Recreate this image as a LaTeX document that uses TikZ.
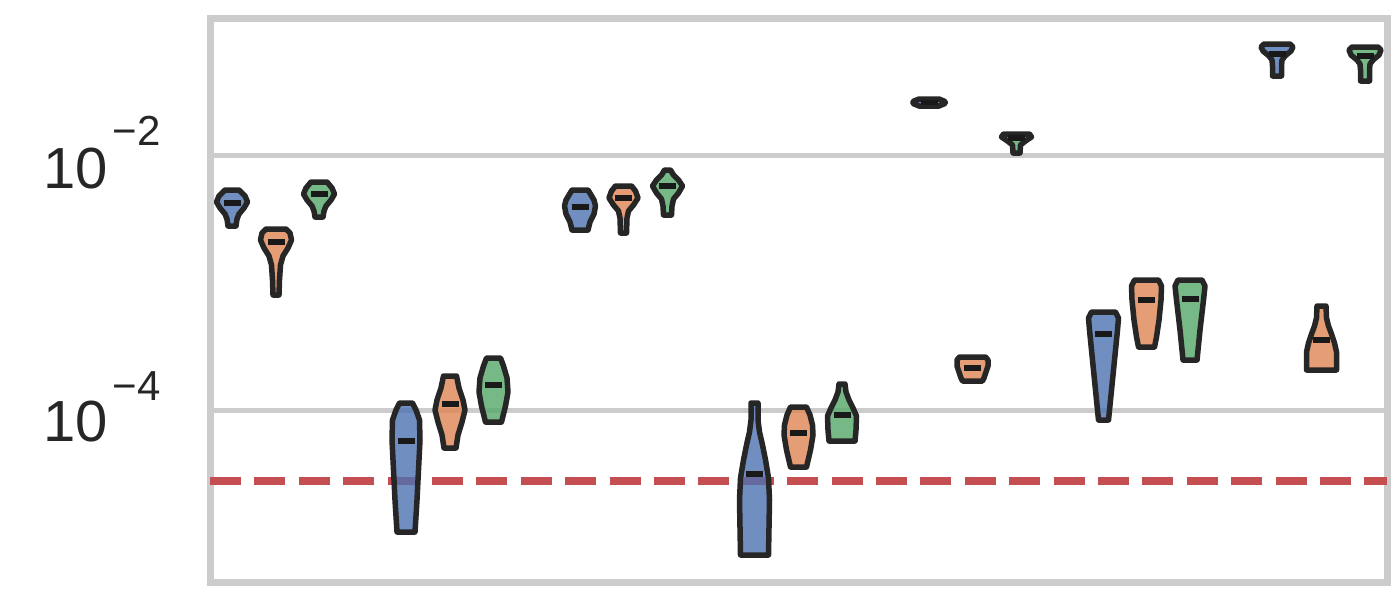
\documentclass[tikz,border=0pt]{standalone}
\usepackage{fontspec}
\setmainfont{Liberation Sans}
\definecolor{cblue}{HTML}{4C72B0}
\definecolor{corange}{HTML}{DD8452}
\definecolor{cgreen}{HTML}{55A868}
\definecolor{cred}{HTML}{C44E52}
\definecolor{edgec}{HTML}{262626}
\definecolor{gridc}{HTML}{CCCCCC}
\definecolor{txtc}{HTML}{262626}
\tikzset{
  viostyle/.style={draw=edgec, line width=5.5pt, line join=round, fill opacity=0.8},
  medbar/.style={draw=black!90, line width=5.5pt},
  spine/.style={draw=gridc, line width=7pt},
  gridline/.style={draw=gridc, line width=5pt},
  refline/.style={draw=cred, line width=8.4pt, dash pattern=on 31pt off 13.4pt},
  ticklab/.style={text=txtc, inner sep=0pt, anchor=base west, font=\fontsize{58}{60}\selectfont},
  suplab/.style={text=txtc, inner sep=0pt, anchor=base west, font=\fontsize{42}{44}\selectfont}
}
% #1 colour, #2 centre x, #3 median y, #4 list of y/halfwidth from top to bottom
\newcommand\myvio[4]{%
  \gdef\vlp{}\gdef\vrp{}%
  \foreach[count=\ii] \yy/\ww in {#4}{%
    \ifnum\ii=1 \xdef\vtop{\yy}\fi
    \xdef\vlp{\vlp -- (#2-\ww,\yy)}%
    \xdef\vrp{-- (#2+\ww,\yy) \vrp}%
  }%
  \edef\vcmd{\noexpand\path[viostyle, fill=#1] (#2,\vtop) \vlp\space\vrp\space -- cycle;}%
  \vcmd
  \draw[medbar] (#2-8.5,#3) -- (#2+8.5,#3);
}
\begin{document}
\begin{tikzpicture}[x=1pt,y=-1pt]
\useasboundingbox (0,0) rectangle (1400,600);
% grid
\coordinate (gl2) at (210,155.8);
\coordinate (gr2) at (1387,155.8);
\coordinate (gl4) at (210,410.5);
\coordinate (gr4) at (1387,410.5);
\draw[gridline] (gl2) -- (gr2);
\draw[gridline] (gl4) -- (gr4);
% frame
\coordinate (fa) at (210,18);
\coordinate (fb) at (1387,582.5);
\draw[spine] (fa) rectangle (fb);
% reference line
\coordinate (ra) at (210,481);
\coordinate (rb) at (1387,481);
\draw[refline] (ra) -- (rb);
% tick labels
\node[ticklab] (t2) at (43,188.3) {10};
\node[suplab] (t2s) at (112.5,145) {−2};
\node[ticklab] (t4) at (43,441.7) {10};
\node[suplab] (t4s) at (112.5,400) {−4};
% group 1
\myvio{cblue}{232}{203}{190/7, 196/13, 202/15.5, 208/12, 214/7, 219/5, 226/4}
\myvio{corange}{276}{242}{229/10, 233/14, 240/15.5, 248/12, 256/7, 265/4.5, 280/3.5, 295/3}
\myvio{cgreen}{319}{194}{182/8, 188/13, 194/15.5, 200/12, 206/7, 211/5, 217/4}
% group 2
\myvio{cblue}{406}{441}{403/6.5, 410/10, 420/13.5, 440/14, 470/12.5, 500/11, 532/9}
\myvio{corange}{450}{404}{376/6.5, 388/9, 400/13, 410/15, 422/12, 435/8, 448/6}
\myvio{cgreen}{493.5}{385}{358/7, 366/10, 378/13.5, 392/14.5, 406/12, 422/8}
% group 3
\myvio{cblue}{580}{207}{190/8, 200/14, 206/15.5, 214/14, 222/10, 230/8}
\myvio{corange}{623.5}{198}{186/8, 191/12, 198/14.5, 205/10, 211/5, 218/3.5, 233/3}
\myvio{cgreen}{667.5}{186}{170/3, 175/6, 180/11, 186/15, 193/11, 199/6, 206/4.5, 215/4}
% group 4
\myvio{cblue}{754.5}{474}{403/3.5, 420/3.5, 432/5, 445/8, 460/11, 478/14, 500/15, 555/14}
\myvio{corange}{798.5}{433}{407/8, 415/11.5, 425/14, 435/14.5, 450/12, 467/8}
\myvio{cgreen}{842}{415}{384/3, 392/4, 400/7, 408/11, 416/14.5, 430/14, 441/13}
% group 5
\myvio{cblue}{929}{102.5}{99/10, 101.5/16, 103.5/16, 106/10}
\myvio{corange}{972.5}{368}{357/13, 360/15.5, 366/15.5, 372/13.5, 378/11.5, 381/10}
\myvio{cgreen}{1016.5}{138}{134/13, 137/15, 141/9, 145/4, 153/3.5}
% group 6
\myvio{cblue}{1103.5}{334}{312/12, 318/15, 330/14, 360/11, 390/8, 420/5}
\myvio{corange}{1146.5}{300}{280/12, 286/15, 300/14.5, 320/12.5, 337/10, 347/8}
\myvio{cgreen}{1190}{299}{280/12, 286/15, 300/13.5, 330/10, 360/7}
% group 7
\myvio{cblue}{1277}{54}{44/13, 47/16, 51/14, 56/8, 60/5, 66/4.5, 76/4.5}
\myvio{corange}{1321.5}{340}{306/4.5, 318/5, 326/7, 334/10, 343/13, 352/15, 370/15}
\myvio{cgreen}{1365}{56}{47/13, 50/16, 55/14, 60/8, 64/5, 70/4.5, 81/4.5}
\end{tikzpicture}
\end{document}
